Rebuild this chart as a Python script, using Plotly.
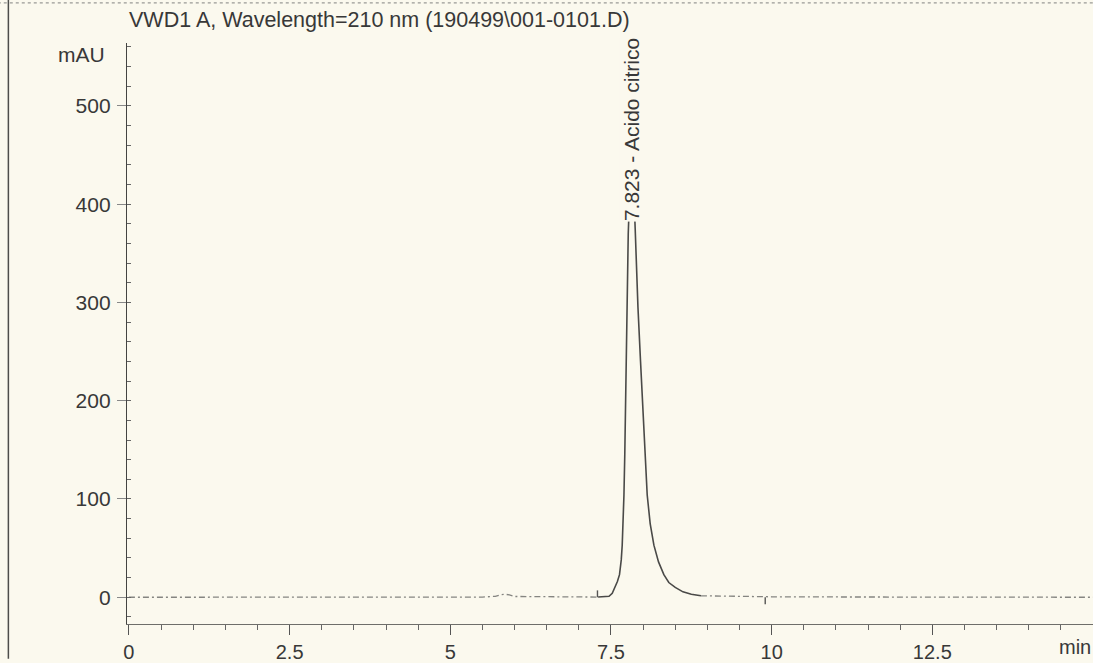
import plotly.graph_objects as go

# ---------------- data ----------------
title_text = "VWD1 A, Wavelength=210 nm (190499\\001-0101.D)"
y_unit = "mAU"
x_unit = "min"

# baseline before the peak (min, mAU)
base_left_t = [0.0, 0.5, 1.0, 1.5, 2.0, 2.5, 3.0, 3.5, 4.0, 4.5, 5.0, 5.5, 5.7, 5.78, 5.85, 5.92, 6.0, 6.5, 7.0, 7.3]
base_left_v = [0.0, 0.0, 0.0, 0.0, 0.0, 0.0, 0.0, 0.0, 0.0, 0.0, 0.0, 0.2, 1.0, 2.5, 3.0, 2.5, 0.8, 0.3, 0.2, 0.2]

# main peak (citric acid)
peak_t = [7.30, 7.40, 7.47, 7.52, 7.566, 7.60, 7.633, 7.66, 7.675, 7.69, 7.702, 7.715, 7.727,
          7.745, 7.769, 7.79, 7.81, 7.823, 7.84, 7.86, 7.877, 7.90, 7.92, 7.96, 7.997, 8.03,
          8.064, 8.11, 8.168, 8.24, 8.323, 8.40, 8.50, 8.62, 8.75, 8.90]
peak_v = [0.3, 0.5, 1.0, 4.0, 10.0, 16.0, 23.0, 38.0, 53.0, 76.0, 104.0, 145.0, 195.0,
          275.0, 370.0, 410.0, 428.0, 432.0, 425.0, 405.0, 375.0, 330.0, 295.0, 240.0, 195.0, 145.0,
          104.0, 75.0, 53.0, 36.0, 23.0, 15.0, 10.0, 5.5, 3.0, 1.5]

# baseline after the peak
base_right_t = [8.90, 9.5, 10.0, 11.0, 12.0, 13.0, 14.0, 15.0]
base_right_v = [1.5, 0.8, 0.5, 0.3, 0.2, 0.1, 0.0, 0.0]

# integration event marks (time, height in mAU)
event_t = [7.29, 9.9]
event_h = [7.0, -7.0]

peak_rt = 7.823
peak_name = "Acido citrico"
peak_label_level = 382.0

x_ticks = [0, 2.5, 5, 7.5, 10, 12.5]
x_tick_text = ["0", "2.5", "5", "7.5", "10", "12.5"]
y_ticks = [0, 100, 200, 300, 400, 500]

x_range = [-0.03, 15.0]
y_range = [-27.2, 564.0]

# ---------------- styling ----------------
BG = "#fbf9ee"
INK = "#383838"
FONT = "Liberation Sans, Arial, sans-serif"

fig = go.Figure()

fig.add_trace(go.Scatter(x=base_left_t, y=base_left_v, mode="lines",
                         line=dict(color="#858581", width=1.3, dash="6px,3px,2px,3px"),
                         hoverinfo="skip", showlegend=False))
fig.add_trace(go.Scatter(x=base_right_t, y=base_right_v, mode="lines",
                         line=dict(color="#858581", width=1.3, dash="6px,3px,2px,3px"),
                         hoverinfo="skip", showlegend=False))
fig.add_trace(go.Scatter(x=peak_t, y=peak_v, mode="lines",
                         line=dict(color="#4a4a48", width=1.6),
                         hoverinfo="skip", showlegend=False))

ev_x, ev_y = [], []
for t, h in zip(event_t, event_h):
    ev_x += [t, t, None]
    ev_y += [0, h, None]
fig.add_trace(go.Scatter(x=ev_x, y=ev_y, mode="lines",
                         line=dict(color="#555553", width=1.4),
                         hoverinfo="skip", showlegend=False))

# peak label (with paper-coloured background, covering the apex as in the print)
fig.add_annotation(x=peak_rt, y=peak_label_level, xref="x", yref="y",
                   text=f"{peak_rt:.3f} - {peak_name}", textangle=-90,
                   showarrow=False, xanchor="center", yanchor="bottom",
                   bgcolor=BG, borderpad=0,
                   font=dict(family=FONT, size=21, color=INK))

# title
fig.add_annotation(x=0, y=1.039, xref="paper", yref="paper", text=title_text,
                   showarrow=False, xanchor="left", yanchor="middle", xshift=0,
                   font=dict(family=FONT, size=21.5, color=INK))
# y unit
fig.add_annotation(x=0, y=552, xref="paper", yref="y", text=y_unit,
                   showarrow=False, xanchor="right", yanchor="middle", xshift=-20,
                   font=dict(family=FONT, size=21, color=INK))
# x unit
fig.add_annotation(x=14.72, y=0, xref="x", yref="paper", text=x_unit,
                   showarrow=False, xanchor="center", yanchor="top", yshift=-10,
                   font=dict(family=FONT, size=20, color=INK))

# page frame remnants from the scan
fig.add_shape(type="line", xref="paper", yref="paper", x0=-0.1228, x1=-0.1228, y0=-0.06, y1=1.08,
              line=dict(color="#4d4d4b", width=1.5))
fig.add_shape(type="line", xref="paper", yref="paper", x0=-0.14, x1=1.0, y0=1.069, y1=1.069,
              line=dict(color="#9a9a96", width=1.2, dash="dot"))

fig.update_layout(
    width=1093, height=663,
    margin=dict(l=127, r=0, t=43, b=33),
    paper_bgcolor=BG, plot_bgcolor=BG,
    showlegend=False,
    font=dict(family=FONT, size=20, color=INK),
)
fig.update_xaxes(range=x_range, tickvals=x_ticks, ticktext=x_tick_text,
                 showgrid=False, zeroline=False,
                 showline=True, linecolor="#6e6e6a", linewidth=1.2,
                 ticks="outside", ticklen=10, tickwidth=1.2, tickcolor="#555",
                 tickfont=dict(family=FONT, size=20, color=INK),
                 minor=dict(dtick=0.5, ticks="outside", ticklen=5, tickcolor="#666", tickwidth=1,
                            showgrid=False))
fig.update_yaxes(range=y_range, tickvals=y_ticks,
                 showgrid=False, zeroline=False,
                 showline=True, linecolor="#444442", linewidth=1.4,
                 ticks="outside", ticklen=9, tickwidth=1, tickcolor="#888",
                 ticklabelstandoff=2,
                 tickfont=dict(family=FONT, size=21, color=INK),
                 minor=dict(tick0=0, dtick=20, ticks="inside", ticklen=4, tickcolor="#666", tickwidth=1,
                            showgrid=False))

fig.write_html("out.html")
